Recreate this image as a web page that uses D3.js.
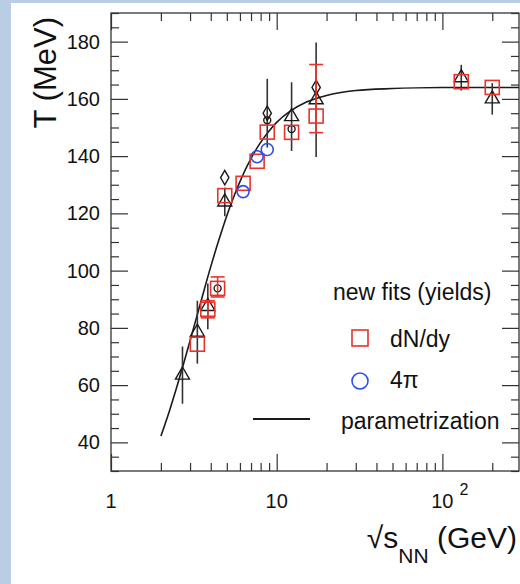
<!DOCTYPE html>
<html><head><meta charset="utf-8">
<script src="https://cdn.jsdelivr.net/npm/d3@7"></script>
<style>body{margin:0;background:#fff}svg{display:block}text{font-family:"Liberation Sans",Arial,Helvetica,sans-serif;fill:#111}</style>
</head><body><svg id="c" width="520" height="584"></svg>
<script>
// ---- data ----
const sqrtS_dNdy = [3.32, 3.84, 4.40, 4.86, 6.27, 7.62, 8.77, 12.3, 17.3, 130, 200];
const T_dNdy     = [74.3, 86.5, 93.8, 126.2, 130.5, 138.2, 148.4, 148.3, 154.0, 166.0, 164.0];
const errLo_dNdy = [0, 3, 3, 0, 0, 0, 0, 0, 5.8, 0, 0];
const errHi_dNdy = [0, 3, 4, 0, 0, 0, 0, 0, 18.0, 0, 0];
const sqrtS_4pi  = [6.27, 7.62, 8.77];
const T_4pi      = [127.6, 139.8, 142.3];
const sqrtS_tri  = [2.70, 3.32, 3.84, 4.86, 12.3, 17.3, 130, 200];
const T_tri      = [63.5, 78.5, 87.5, 124.0, 153.8, 159.7, 167.4, 160.0];
const err_tri    = [10, 11, 8, 5, 12, 20, 4.5, 5.5];
const sqrtS_dia  = [4.86, 8.77, 17.3];
const T_dia      = [132.5, 155.0, 164.0];
const err_dia    = [0, 12, 0];
const sqrtS_dot  = [4.40, 8.77, 12.3];
const T_dot      = [93.8, 152.5, 149.5];
const curveS = [2, 2.25, 2.5, 2.75, 3, 3.5, 4, 4.5, 5, 5.5, 6, 7, 8, 9, 10, 12, 15, 20, 30, 50, 100, 200, 300];
const curveT = [42.2, 50.9, 59.5, 67.7, 75.5, 89.5, 101.4, 111.1, 119.2, 125.7, 131.1, 139.2, 144.8, 148.8, 151.8, 155.6, 158.8, 161.2, 162.9, 163.6, 163.95, 164, 164];
const yTicks = [40, 60, 80, 100, 120, 140, 160, 180];
const xTickVals = [1, 10, 100];
const xTickBase = ["1", "10", "10"];
const xTickExp  = ["", "", "2"];
const legendTitle = "new fits (yields)";
const legendLabels = ["dN/dy", "4\u03c0", "parametrization"];

const RED = "#e8332b", BLUE = "#2e4ff0", BLK = "#1a1a1a";

const svg = d3.select("#c");
svg.append("rect").attr("width", 520).attr("height", 584).attr("fill", "#b9cde5");
svg.append("rect").attr("x", 11).attr("y", 3).attr("width", 509).attr("height", 581).attr("fill", "#fff");

const x = d3.scaleLog().domain([1, 290]).range([111, 519]);
const y = d3.scaleLinear().domain([30, 190]).range([471, 13]);
const [x0, x1] = x.range(), [y0, y1] = y.range();

svg.append("defs").append("clipPath").attr("id", "clip")
  .append("rect").attr("x", x0).attr("y", y1).attr("width", x1 - x0).attr("height", y0 - y1);

// ---- axes ----
const yMinor = y.ticks(32).filter(v => !yTicks.includes(v));
const xMinor = x.ticks().filter(v => !xTickVals.includes(v));
function styleAxis(g) { g.select(".domain").remove(); g.selectAll("line").attr("stroke", "#333").attr("stroke-width", 1.2); }

svg.append("g").attr("transform", `translate(${x0},0)`)
  .call(d3.axisLeft(y).tickValues(yTicks).tickSizeInner(-17).tickSizeOuter(0).tickPadding(11).tickFormat(d3.format("d")))
  .call(styleAxis)
  .call(g => g.selectAll("text").attr("font-size", 20).attr("fill", "#111").attr("font-family", "Liberation Sans, Arial, sans-serif"));
svg.append("g").attr("transform", `translate(${x0},0)`)
  .call(d3.axisLeft(y).tickValues(yMinor).tickSizeInner(-8).tickSizeOuter(0).tickFormat(""))
  .call(styleAxis);
svg.append("g").attr("transform", `translate(${x1},0)`)
  .call(d3.axisRight(y).tickValues(yTicks).tickSizeInner(-17).tickSizeOuter(0).tickFormat(""))
  .call(styleAxis);
svg.append("g").attr("transform", `translate(${x1},0)`)
  .call(d3.axisRight(y).tickValues(yMinor).tickSizeInner(-8).tickSizeOuter(0).tickFormat(""))
  .call(styleAxis);
[[y0, d3.axisBottom], [y1, d3.axisTop]].forEach(([yy, ax]) => {
  svg.append("g").attr("transform", `translate(0,${yy})`)
    .call(ax(x).tickValues(xTickVals).tickSizeInner(-17).tickSizeOuter(0).tickFormat(""))
    .call(styleAxis);
  svg.append("g").attr("transform", `translate(0,${yy})`)
    .call(ax(x).tickValues(xMinor).tickSizeInner(-8).tickSizeOuter(0).tickFormat(""))
    .call(styleAxis);
});
svg.append("rect").attr("x", x0).attr("y", y1).attr("width", x1 - x0).attr("height", y0 - y1)
  .attr("fill", "none").attr("stroke", "#333").attr("stroke-width", 1.3);

// x tick labels
xTickVals.forEach((v, i) => {
  svg.append("text").attr("x", x(v)).attr("y", 508).attr("text-anchor", "middle")
    .attr("font-size", 20).text(xTickBase[i]);
  if (xTickExp[i]) svg.append("text").attr("x", x(v) + 17).attr("y", 495)
    .attr("font-size", 16).text(xTickExp[i]);
});

// axis titles
const xt = svg.append("text").attr("x", 517).attr("y", 548).attr("text-anchor", "end").attr("font-size", 30);
xt.append("tspan").text("\u221as");
xt.append("tspan").attr("font-size", 21).attr("dy", 15).text("NN");
xt.append("tspan").attr("dy", -15).text(" (GeV)");
svg.append("text").attr("transform", "translate(56,17) rotate(-90)").attr("text-anchor", "end")
  .attr("font-size", 31).text("T (MeV)");

// ---- plot ----
const plot = svg.append("g").attr("clip-path", "url(#clip)");
const line = d3.line().x(d => x(d[0])).y(d => y(d[1])).curve(d3.curveMonotoneX);
plot.append("path").datum(curveS.map((s, i) => [s, curveT[i]]))
  .attr("d", line).attr("fill", "none").attr("stroke", BLK).attr("stroke-width", 1.6);

function errBars(sArr, tArr, loArr, hiArr, color, cap) {
  sArr.forEach((s, i) => {
    if (!loArr[i] && !hiArr[i]) return;
    const cx = x(s), lo = tArr[i] - loArr[i], hi = tArr[i] + hiArr[i];
    plot.append("line").attr("x1", cx).attr("x2", cx).attr("y1", y(lo)).attr("y2", y(hi))
      .attr("stroke", color).attr("stroke-width", 1.6);
    if (cap) [lo, hi].forEach(t =>
      plot.append("line").attr("x1", cx - cap).attr("x2", cx + cap).attr("y1", y(t)).attr("y2", y(t))
        .attr("stroke", color).attr("stroke-width", 1.6));
  });
}
errBars(sqrtS_tri, T_tri, err_tri, err_tri, "#333", 0);
errBars(sqrtS_dia, T_dia, err_dia, err_dia, "#333", 0);

const triSym = d3.symbol().type(d3.symbolTriangle).size(85);
plot.selectAll(".tri").data(sqrtS_tri.map((s, i) => [s, T_tri[i]])).join("path")
  .attr("transform", d => `translate(${x(d[0])},${y(d[1])})`).attr("d", triSym)
  .attr("fill", "none").attr("stroke", BLK).attr("stroke-width", 1.4);
const diaSym = d3.symbol().type(d3.symbolDiamond).size(60);
plot.selectAll(".dia").data(sqrtS_dia.map((s, i) => [s, T_dia[i]])).join("path")
  .attr("transform", d => `translate(${x(d[0])},${y(d[1])})`).attr("d", diaSym)
  .attr("fill", "none").attr("stroke", BLK).attr("stroke-width", 1.4);
plot.selectAll(".dot").data(sqrtS_dot.map((s, i) => [s, T_dot[i]])).join("circle")
  .attr("cx", d => x(d[0])).attr("cy", d => y(d[1])).attr("r", 3.5)
  .attr("fill", "none").attr("stroke", BLK).attr("stroke-width", 1.4);

errBars(sqrtS_dNdy, T_dNdy, errLo_dNdy, errHi_dNdy, RED, 7);
plot.selectAll(".sq").data(sqrtS_dNdy.map((s, i) => [s, T_dNdy[i]])).join("rect")
  .attr("x", d => x(d[0]) - 7).attr("y", d => y(d[1]) - 7).attr("width", 14).attr("height", 14)
  .attr("fill", "none").attr("stroke", RED).attr("stroke-width", 1.6);
plot.selectAll(".bc").data(sqrtS_4pi.map((s, i) => [s, T_4pi[i]])).join("circle")
  .attr("cx", d => x(d[0])).attr("cy", d => y(d[1])).attr("r", 6)
  .attr("fill", "none").attr("stroke", BLUE).attr("stroke-width", 1.6);

// ---- legend ----
const lg = svg.append("g");
lg.append("text").attr("x", 333).attr("y", 300).attr("font-size", 23).text(legendTitle);
lg.append("rect").attr("x", 352).attr("y", 330).attr("width", 16).attr("height", 16)
  .attr("fill", "none").attr("stroke", RED).attr("stroke-width", 1.6);
lg.append("text").attr("x", 390).attr("y", 347).attr("font-size", 23).text(legendLabels[0]);
lg.append("circle").attr("cx", 360).attr("cy", 381).attr("r", 8)
  .attr("fill", "none").attr("stroke", BLUE).attr("stroke-width", 1.6);
lg.append("text").attr("x", 390).attr("y", 388).attr("font-size", 23).text(legendLabels[1]);
lg.append("line").attr("x1", 253).attr("x2", 310).attr("y1", 419).attr("y2", 419)
  .attr("stroke", BLK).attr("stroke-width", 1.8);
lg.append("text").attr("x", 341).attr("y", 429).attr("font-size", 23).text(legendLabels[2]);
</script></body></html>
